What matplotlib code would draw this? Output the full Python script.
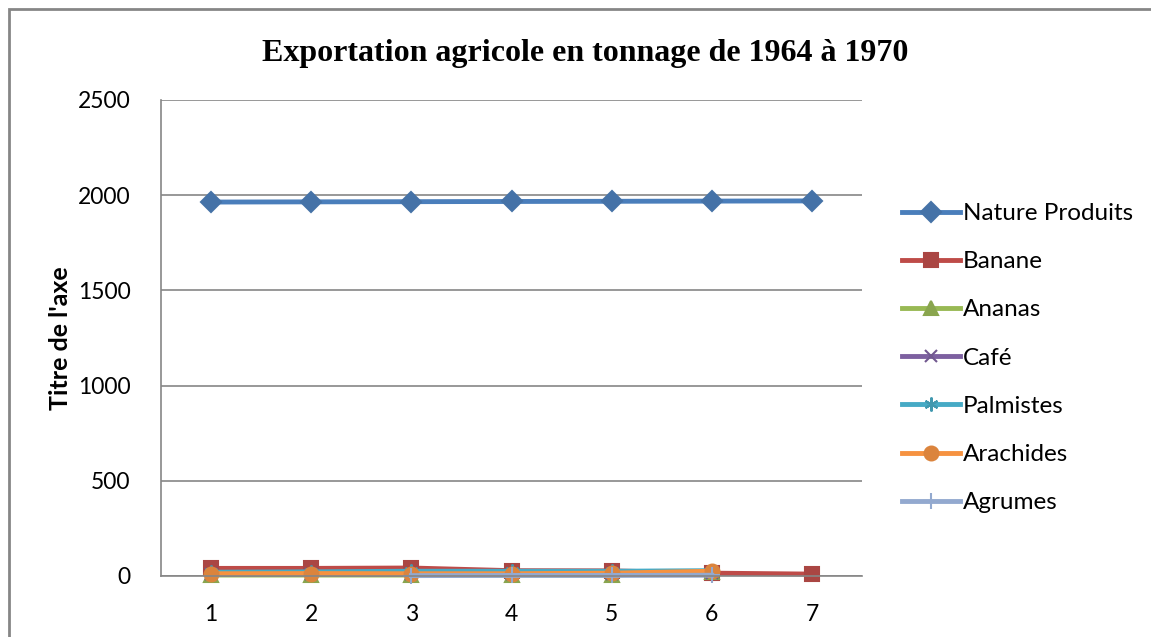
import matplotlib.pyplot as plt
import numpy as np
from matplotlib.patches import Rectangle

# categories (x axis is just the row index in the original sheet)
cats = [1, 2, 3, 4, 5, 6, 7]

# values
nature_produits = [1964, 1965, 1966, 1967, 1968, 1969, 1970]
banane = [40, 40, 42, 28, 27, 15, 10]
ananas = [5, 5, 5, 5, 5, 20, np.nan]
cafe = [10, 12, 10, 12, 13, 15, np.nan]
palmistes = [20, 22, 25, 25, 25, 28, np.nan]
arachides = [12, 13, 12, 12, 15, 25, np.nan]
agrumes = [np.nan, np.nan, 2, 3, 3, 4, np.nan]

title = "Exportation agricole en tonnage de 1964 à 1970"
ylabel = "Titre de l'axe"

plt.rcParams['font.family'] = ['Lato', 'DejaVu Sans']

fig = plt.figure(figsize=(11.51, 6.37), dpi=100)
ax = fig.add_axes([161 / 1151, 61 / 637, 701 / 1151, 476 / 637])

series = [
    ("Nature Produits", nature_produits, '#4A7EBB', '#4572A7', 'D', 10),
    ("Banane", banane, '#BE4B48', '#AA4643', 's', 10),
    ("Ananas", ananas, '#98B954', '#89A54E', '^', 10),
    ("Café", cafe, '#7D60A0', '#71588F', 'x', 9),
    ("Palmistes", palmistes, '#46AAC5', '#4198AF', (6, 2, 0), 10),
    ("Arachides", arachides, '#F69240', '#DB843D', 'o', 10),
    ("Agrumes", agrumes, '#93A9CF', '#93A9CF', '+', 12),
]

for name, vals, col, mcol, mk, ms in series:
    ax.plot(cats, vals, color=col, lw=3.5, marker=mk, ms=ms,
            markerfacecolor=mcol, markeredgecolor=mcol, mew=1.5,
            label=name, clip_on=False)

ax.set_xlim(0.5, 7.5)
ax.set_ylim(0, 2500)
ax.set_xticks(cats)
ax.set_yticks(np.arange(0, 2501, 500))
ax.tick_params(length=0, labelsize=16.5)
ax.tick_params(axis='x', pad=20)
ax.tick_params(axis='y', pad=22)
ax.yaxis.grid(True, color='#868686', lw=1.2)
ax.set_axisbelow(True)
for s in ['top', 'right']:
    ax.spines[s].set_visible(False)
for s in ['left', 'bottom']:
    ax.spines[s].set_color('#868686')
    ax.spines[s].set_linewidth(1.2)

ax.set_ylabel(ylabel, fontsize=18, fontweight='bold', labelpad=4)

fig.text(585 / 1151, 1 - 53 / 637, title, ha='center', va='center',
         fontsize=23, fontweight='bold', family='Liberation Serif')

ax.legend(loc='upper left', bbox_to_anchor=(902 / 1151, 1 - 203 / 637),
          bbox_transform=fig.transFigure, frameon=False, fontsize=17.5,
          handlelength=2.4, handletextpad=0.1, labelspacing=1.12,
          borderaxespad=0, borderpad=0)

fig.patches.append(Rectangle((9 / 1151, -0.1), 1.2, 1 - 9 / 637 + 0.1,
                             transform=fig.transFigure, fill=False,
                             edgecolor='#868686', lw=2))

fig.savefig('out.png', dpi=100)
